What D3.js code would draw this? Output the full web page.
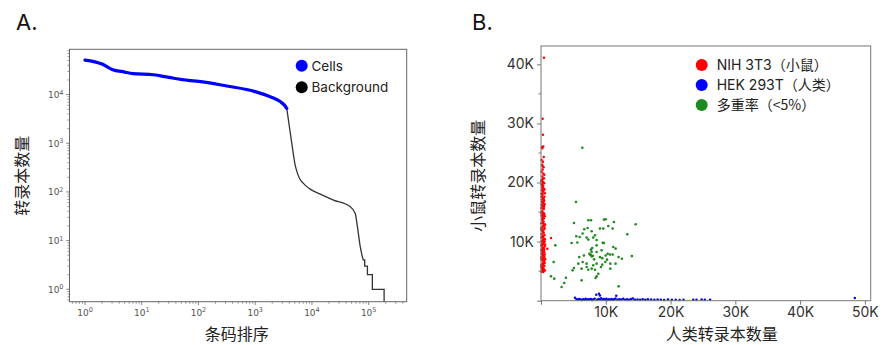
<!DOCTYPE html>
<html><head><meta charset="utf-8">
<script src="https://cdn.jsdelivr.net/npm/d3@7"></script>
<style>body{margin:0;background:#fff} svg{display:block}</style>
</head><body><svg id="c" width="892" height="345"></svg>
<script>
// ---------- Panel A data (barcode rank plot) ----------
const cellRank  = [1, 2, 3, 5, 7, 16, 30, 66, 100, 316, 1000, 1840, 2800, 3300, 3600];
const cellCount = [51000, 42300, 32900, 29000, 27000, 25500, 22500, 19500, 18700, 15000, 11500, 9000, 7100, 6000, 5200];
const bgRank  = [3600, 4000, 4700, 5000, 5600, 6200, 7000, 8000, 9300, 14000, 24000, 47000, 58000, 63000, 71000, 80000];
const bgCount = [5200, 2200, 600, 380, 235, 180, 152, 130, 114, 90, 68, 50, 36, 20, 7.5, 4];
const tailRank  = [80000, 85000, 95000, 116000, 187000, 187000];
const tailCount = [4, 3, 2, 1, 1, 0.556];
const logTicksA = [0, 1, 2, 3, 4, 5];
const legendA = ["Cells", "Background"];

// ---------- Panel B data (barnyard plot) ----------
const mousePts = [[460,41100],[250,30800],[300,28100],[150,26000],[350,26100],[200,25800],[300,23500],[180,23000],[400,22600],[250,22200],[100,21800],[350,21500],[200,21000],[450,20700],[120,20400],[300,20100],[500,19900],[80,19600],[260,19300],[420,19000],[150,18700],[340,18500],[600,18200],[220,17900],[90,17600],[380,17300],[480,17000],[160,16700],[300,16500],[560,16300],[240,16000],[60,15700],[420,15500],[180,15200],[330,14900],[520,14700],[110,14400],[270,14200],[450,13900],[200,13600],[380,13400],[70,13100],[620,12900],[290,12600],[150,12400],[480,12100],[230,11800],[350,11600],[90,11300],[540,11100],[190,10800],[410,10600],[280,10300],[130,10100],[460,9900],[320,9600],[60,9400],[580,9200],[210,8900],[380,8700],[140,8400],[500,8200],[260,7900],[420,7700],[100,7400],[340,7200],[650,7000],[180,6800],[450,6500],[290,6300],[80,6100],[520,5900],[230,5700],[390,5500],[150,5300],[600,5100],[310,5000],[1540,10600],[970,8800],[220,19800],[380,18900],[130,17100],[470,15900],[250,14600],[400,13000],[170,11900],[300,10900],[480,8600],[220,7600],[360,6000],[120,5600],[560,12300],[620,9500],[520,17600],[80,12000],[260,20600],[400,16100],[200,14000],[540,10000],[100,8000],[430,6900],[280,5400],[160,19100],[500,21300],
  [60,20200],[330,19500],[540,18800],[70,18100],[280,17400],[440,16800],[110,16200],[360,15600],[50,14900],[580,14300],[220,13800],[320,13200],[500,12700],[40,12200],[400,11500],[250,11000],[600,10400],[60,10700],[350,9900],[170,9300],[440,8900],[60,8600],[300,8200],[580,7800],[40,7100],[480,6700],[200,6200],[560,6400],[40,5800],[440,5200],[100,4900],[350,4850],[230,22800],[420,24300],[100,23800],[250,18200],[460,14400],[150,9700],[380,10200],[520,7400]];
const humanPts = [[5250,510],[5500,250],[5700,150],[5900,300],[6100,200],[6300,120],[6500,260],[6700,180],[6900,320],[7100,140],[7300,240],[7500,190],[7700,280],[7900,130],[8100,230],[8300,350],[8530,1020],[8950,1190],[9100,900],[8700,170],[8900,300],[9100,220],[9300,420],[9500,150],[9700,280],[9900,190],[10100,350],[10300,130],[10500,250],[10700,180],[10900,300],[11100,160],[11300,240],[11620,850],[11500,380],[11800,140],[12100,260],[12400,190],[12700,310],[13000,150],[13300,230],[13600,180],[13900,280],[14200,390],[14500,140],[14900,220],[15300,170],[15700,260],[16100,150],[16500,230],[17000,190],[17500,140],[18000,210],[18500,170],[19000,130],[19600,200],[20200,150],[20800,180],[21400,130],[22000,160],[23500,170],[24000,140],[24800,190],[25300,150],[26100,160],[48450,450]];
const multiPts = [[6380,25870],[5400,16710],[5090,13150],[7300,13610],[7720,13610],[9720,13720],[9980,13780],[11260,13320],[10390,12650],[9100,12200],[9620,12200],[11060,12200],[14610,12930],[13320,11240],[6680,12080],[7820,11750],[5450,10900],[5970,10780],[7050,10680],[7300,10340],[8070,10680],[4730,9760],[5610,9860],[9520,9800],[9720,9750],[8590,9370],[7710,8640],[7820,8240],[7460,7950],[7700,7700],[7850,7500],[8000,7600],[7600,7800],[6630,7660],[5900,7380],[8590,8240],[9100,7380],[9980,7660],[10290,7950],[10650,7830],[11060,7800],[11520,8810],[11980,7380],[12490,7100],[14030,7550],[10190,6950],[9930,6540],[10700,6270],[11520,6270],[9460,6100],[8590,6270],[8070,5990],[7050,6270],[6430,6540],[5760,6270],[7050,5700],[6270,5420],[7300,5250],[8330,5250],[7820,5420],[5090,5530],[4880,5140],[10700,5420],[9260,5700],[8850,4570],[8590,4120],[8430,3840],[6270,3440],[3850,3890],[3590,2990],[3180,2310],[11980,2430],[2050,3730],[1540,4120],[2210,9370],[1950,6540],[8590,10280],[7200,12300],[6430,11360],[8330,11070],[11160,9090],[9360,8520],[9460,7200],[7900,8900],[8200,7000]];
const ticksBX = [10000, 20000, 30000, 40000, 50000];
const ticksBY = [0, 10000, 20000, 30000, 40000];
const minorBY = [5000, 15000, 25000, 35000];
const legendBLatin = ["NIH 3T3", "HEK 293T", "多重率"];
const legendBParen = ["（小鼠）", "（人类）", "（<5%）"];
const colorsB = ["#ff0000", "#0000ff", "#1f8a1f"];

const svg = d3.select("#c");
const FONT = "Inter, 'Noto Sans CJK SC', sans-serif";
const CJK = "'Noto Sans CJK SC', sans-serif";

// ================= Panel A =================
const xA = d3.scaleLog().domain([Math.pow(10,-0.273), Math.pow(10,5.67)]).range([69.5, 406.7]);
const yA = d3.scaleLog().domain([Math.pow(10,-0.255), Math.pow(10,4.93)]).range([301.7, 49.3]);
const gA = svg.append("g");
svg.append("defs").append("clipPath").attr("id","clipA").append("rect")
  .attr("x",69.5).attr("y",49.3).attr("width",337.2).attr("height",252.4);

function minorTicks(scale){
  const [a,b] = scale.domain(); const out=[];
  for(let k=Math.floor(Math.log10(a)); k<=Math.ceil(Math.log10(b)); k++)
    for(let m=2;m<=9;m++){ const v=m*Math.pow(10,k); if(v>=a && v<=b) out.push(v); }
  return out;
}
const axColor = "#666";
gA.selectAll(".xmin").data(minorTicks(xA)).join("line")
  .attr("x1",d=>xA(d)).attr("x2",d=>xA(d)).attr("y1",301.7).attr("y2",303.7)
  .attr("stroke",axColor).attr("stroke-width",0.7);
gA.selectAll(".xmaj").data(logTicksA).join("line")
  .attr("x1",d=>xA(Math.pow(10,d))).attr("x2",d=>xA(Math.pow(10,d))).attr("y1",301.7).attr("y2",305)
  .attr("stroke",axColor).attr("stroke-width",0.8);
gA.selectAll(".ymin").data(minorTicks(yA)).join("line")
  .attr("y1",d=>yA(d)).attr("y2",d=>yA(d)).attr("x1",69.5).attr("x2",67.5)
  .attr("stroke",axColor).attr("stroke-width",0.7);
gA.selectAll(".ymaj").data(logTicksA.slice(0,5)).join("line")
  .attr("y1",d=>yA(Math.pow(10,d))).attr("y2",d=>yA(Math.pow(10,d))).attr("x1",69.5).attr("x2",66.2)
  .attr("stroke",axColor).attr("stroke-width",0.8);
const xl = gA.selectAll(".xl").data(logTicksA).join("text")
  .attr("x",d=>xA(Math.pow(10,d))).attr("y",315.5).attr("text-anchor","middle")
  .attr("font-family","'DejaVu Sans', sans-serif").attr("font-size",9).attr("fill","#555");
xl.append("tspan").text("10");
xl.append("tspan").attr("dy",-3.5).attr("font-size",6.5).text(d=>d);
const yl = gA.selectAll(".yl").data(logTicksA.slice(0,5)).join("text")
  .attr("x",63.5).attr("y",d=>yA(Math.pow(10,d))+3.5).attr("text-anchor","end")
  .attr("font-family","'DejaVu Sans', sans-serif").attr("font-size",9).attr("fill","#555");
yl.append("tspan").text("10");
yl.append("tspan").attr("dy",-3.5).attr("font-size",6.5).text(d=>d);

const lineA = d3.line().x(d=>xA(d[0])).y(d=>yA(d[1])).curve(d3.curveMonotoneX);
const plotA = gA.append("g").attr("clip-path","url(#clipA)");
plotA.append("path").datum(bgRank.map((r,i)=>[r,bgCount[i]])).attr("d",lineA)
  .attr("fill","none").attr("stroke","#333").attr("stroke-width",1.3);
plotA.append("path").datum(tailRank.map((r,i)=>[r,tailCount[i]]))
  .attr("d",d3.line().x(d=>xA(d[0])).y(d=>yA(d[1])).curve(d3.curveStepAfter))
  .attr("fill","none").attr("stroke","#333").attr("stroke-width",1.3);
plotA.append("path").datum(cellRank.map((r,i)=>[r,cellCount[i]])).attr("d",lineA)
  .attr("fill","none").attr("stroke","#0000ff").attr("stroke-width",3.2).attr("stroke-linecap","round");
gA.append("rect").attr("x",69.5).attr("y",49.3).attr("width",337.2).attr("height",252.4)
  .attr("fill","none").attr("stroke",axColor).attr("stroke-width",1);
const legA = gA.selectAll(".legA").data(legendA).join("g")
  .attr("transform",(d,i)=>`translate(301.7,${65.7+i*21.6})`);
legA.append("circle").attr("r",6).attr("fill",(d,i)=>i===0?"#0000ff":"#000");
legA.append("text").attr("x",9.8).attr("y",4.8).text(d=>d)
  .attr("font-family",FONT).attr("font-size",13.5).attr("fill","#222");
gA.append("text").attr("x",16).attr("y",30).text("A.").attr("font-family",FONT).attr("font-size",22).attr("fill","#111");
gA.append("text").attr("transform","translate(27.5,175.8) rotate(-90)").attr("text-anchor","middle")
  .text("转录本数量").attr("font-family",CJK).attr("font-size",16).attr("fill","#222");
gA.append("text").attr("x",236.7).attr("y",340).attr("text-anchor","middle")
  .text("条码排序").attr("font-family",CJK).attr("font-size",16).attr("fill","#222");

// ================= Panel B =================
const xB = d3.scaleLinear().domain([0, 50900]).range([541, 870.7]);
const yB = d3.scaleLinear().domain([0, 43100]).range([300.7, 46]);
const gB = svg.append("g");
const bColor = "#777";
gB.append("g").attr("transform","translate(0,300.7)")
  .call(d3.axisBottom(xB).tickValues([0].concat(ticksBX)).tickSize(4).tickPadding(2).tickFormat(d=>d===0?"":(d/1000)+"K"))
  .call(g=>{g.select(".domain").remove(); g.selectAll("line").attr("stroke",bColor);
    g.selectAll("text").attr("font-family",FONT).attr("font-size",14).attr("fill","#333");});
gB.append("g").attr("transform","translate(541,0)")
  .call(d3.axisLeft(yB).tickValues(ticksBY).tickSize(4).tickPadding(3).tickFormat(d=>d===0?"":(d/1000)+"K"))
  .call(g=>{g.select(".domain").remove(); g.selectAll("line").attr("stroke",bColor);
    g.selectAll("text").attr("font-family",FONT).attr("font-size",14).attr("fill","#333");});
gB.selectAll(".minB").data(minorBY).join("line")
  .attr("x1",541).attr("x2",538.5).attr("y1",d=>yB(d)).attr("y2",d=>yB(d)).attr("stroke",bColor);
const ptsB = gB.append("g");
[[mousePts,0],[humanPts,1],[multiPts,2]].forEach(([arr,ci])=>{
  ptsB.selectAll(".p"+ci).data(arr).join("circle")
    .attr("cx",d=>xB(d[0])).attr("cy",d=>yB(d[1])).attr("r",ci===2?1.3:1.25).attr("fill",colorsB[ci]);
});
gB.append("rect").attr("x",541).attr("y",46).attr("width",329.7).attr("height",254.7)
  .attr("fill","none").attr("stroke",bColor).attr("stroke-width",1);
const legB = gB.selectAll(".legB").data(legendBLatin).join("g")
  .attr("transform",(d,i)=>`translate(701.7,${65+i*20})`);
legB.append("circle").attr("r",6).attr("fill",(d,i)=>colorsB[i]);
const legT = legB.append("text").attr("x",15).attr("y",5).attr("font-size",14).attr("fill","#222");
legT.append("tspan").attr("font-family",(d,i)=>i===2?CJK:FONT).text(d=>d);
legT.append("tspan").attr("font-family",CJK).text((d,i)=>legendBParen[i]);
gB.append("text").attr("x",472).attr("y",30).text("B.").attr("font-family",FONT).attr("font-size",22).attr("fill","#111");
gB.append("text").attr("transform","translate(484,175.8) rotate(-90)").attr("text-anchor","middle")
  .text("小鼠转录本数量").attr("font-family",CJK).attr("font-size",16).attr("fill","#222");
gB.append("text").attr("x",721.7).attr("y",340).attr("text-anchor","middle")
  .text("人类转录本数量").attr("font-family",CJK).attr("font-size",16).attr("fill","#222");
</script></body></html>
